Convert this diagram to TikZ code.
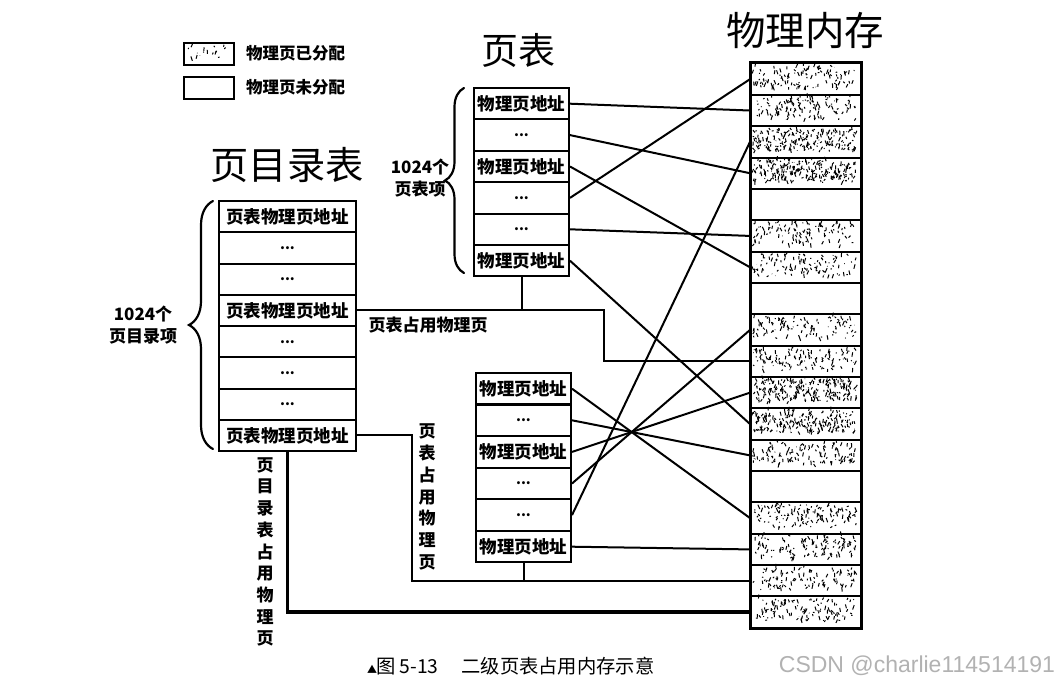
\documentclass[tikz,border=0pt]{standalone}
\usepackage{fontspec}
\setmainfont{Noto Sans CJK SC}
\newfontfamily\wmfont{Liberation Sans}
\usetikzlibrary{decorations.pathreplacing}
\newcommand{\celldots}{\raisebox{-3pt}{\fontsize{14}{14}\selectfont\bfseries ...}}
\newcommand{\noisefill}[5]{%
  \foreach \k in {1,...,#5}{%
    \pgfmathsetmacro{\rx}{#1+3+rnd*(#3-7)}%
    \pgfmathsetmacro{\ry}{#2+3+rnd*(#4-9)}%
    \pgfmathsetmacro{\dx}{rand*2}%
    \pgfmathsetmacro{\dy}{rand*4.5}%
    \draw[line width=1pt] (\rx,\ry) -- ++(\dx,\dy);
  }}
\begin{document}
\begin{tikzpicture}[x=1pt,y=-1pt,line width=2pt,
  cell/.style={draw,line width=2pt,inner sep=0pt,anchor=north west,
    font=\fontsize{17.5}{17.5}\selectfont\bfseries},
  tcell/.style={cell,minimum width=95pt,minimum height=31.4pt},
  dcell/.style={cell,minimum width=137pt,minimum height=31.25pt},
  memcell/.style={draw,line width=2pt,inner sep=0pt,anchor=north west,
    minimum width=110pt,minimum height=31.35pt},
  conn/.style={line width=2pt},
  thickconn/.style={line width=3.8pt},
  lbl/.style={inner sep=0pt,font=\fontsize{17}{21.7}\selectfont\bfseries,align=center},
  title/.style={inner sep=0pt,font=\fontsize{37}{37}\selectfont},
  bracestyle/.style={decorate,line width=2.2pt,line cap=round}]
\useasboundingbox (0,0) rectangle (1061,685);
\fill[white] (0,0) rectangle (1061,685);
\pgfmathsetseed{7}

% titles
\node[title] (ttab) at (518,50) {页表};
\node[title,font=\fontsize{39.5}{39.5}\selectfont] (tmem) at (805,31) {物理内存};
\node[title,font=\fontsize{38.3}{38.3}\selectfont] (tdir) at (287,165) {页目录表};

% legend
\node[draw,line width=2pt,minimum width=50pt,minimum height=22pt,inner sep=0pt,anchor=north west] (leg1) at (183,42) {};
\node[draw,line width=2pt,minimum width=50pt,minimum height=22pt,inner sep=0pt,anchor=north west] (leg2) at (183,76) {};
\noisefill{183}{42}{50}{22}{16}
\node[lbl,font=\fontsize{16.5}{16.5}\selectfont\bfseries,anchor=west] (leg1t) at (245,53) {物理页已分配};
\node[lbl,font=\fontsize{16.5}{16.5}\selectfont\bfseries,anchor=west] (leg2t) at (245,87) {物理页未分配};

% page directory
\foreach \i/\t in {1/页表物理页地址,2/\celldots,3/\celldots,4/页表物理页地址,5/\celldots,6/\celldots,7/\celldots,8/页表物理页地址}
  \node[dcell] (d\i) at (218,{200+(\i-1)*31.25}) {\t};

% upper page table
\foreach \i/\t in {1/物理页地址,2/\celldots,3/物理页地址,4/\celldots,5/\celldots,6/物理页地址}
  \node[tcell] (t\i) at (473,{87+(\i-1)*31.4}) {\t};

% lower page table
\foreach \i/\t in {1/物理页地址,2/\celldots,3/物理页地址,4/\celldots,5/\celldots,6/物理页地址}
  \node[tcell] (b\i) at (475,{372+(\i-1)*31.6}) {\t};

% physical memory
\foreach \i in {1,...,18}
  \node[memcell] (m\i) at (750,{62.5+(\i-1)*31.35}) {};
\foreach \i/\n in {1/110,2/115,3/210,4/220,6/105,7/100,9/105,10/115,11/220,12/210,13/120,15/120,16/115,17/100,18/115}
  \noisefill{750}{62.5+(\i-1)*31.35}{110}{31.35}{\n}
\draw[line width=2.6pt] (m1.north west) rectangle (m18.south east);

% braces
\draw[bracestyle,decoration={brace,amplitude=19pt}] (464,273) -- (464,88);
\draw[bracestyle,decoration={brace,amplitude=24pt}] (213,449) -- (213,201);
\node[lbl] (lt) at (420,178) {1024个\\页表项};
\node[lbl] (ld) at (143,325) {1024个\\页目录项};

% upper table mappings
\draw[conn] (t1.east) -- (m2.west);
\draw[conn] (t2.east) -- (m4.west);
\draw[conn] (t3.east) -- (m7.west);
\draw[conn] (t4.east) -- (m1.west);
\draw[conn] (t5.east) -- (m6.west);
\draw[conn] (t6.east) -- (m12.west);

% lower table mappings
\draw[conn] (b1.east) -- (m15.west);
\draw[conn] (b2.east) -- (m13.west);
\draw[conn] (b3.east) -- (m11.west);
\draw[conn] (b4.east) -- (m9.west);
\draw[conn] (b5.east) -- (m3.west);
\draw[conn] (b6.east) -- (m16.west);

% page-table pages
\draw[conn] (d4.east) -- ++(247,0) |- (m10.west);
\draw[conn] (t6.south) -- (t6.south |- d4.east);
\draw[conn] (d8.east) -- ++(55,0) |- (m17.west);
\draw[conn] (b6.south) -- (b6.south |- m17.west);
\draw[thickconn] (d8.south) |- (m18.west);

% labels
\node[lbl] (lpt) at (428,325) {页表占用物理页};
\node[lbl] (lpt2) at (427,497) {页\\表\\占\\用\\物\\理\\页};
\node[lbl] (lpd) at (265,552) {页\\目\\录\\表\\占\\用\\物\\理\\页};

% caption
\node[inner sep=0pt,anchor=west,font=\fontsize{19.3}{19.3}\selectfont] (cap) at (366,666)
  {{\fontsize{10}{10}\selectfont ▲}\hspace{-1pt}图 5-13\hspace{23pt}二级页表占用内存示意};
\node[inner sep=0pt,anchor=east,text=gray!60,font=\wmfont\fontsize{23}{23}\selectfont] (wm) at (1056,666) {CSDN @charlie114514191};
\end{tikzpicture}
\end{document}
